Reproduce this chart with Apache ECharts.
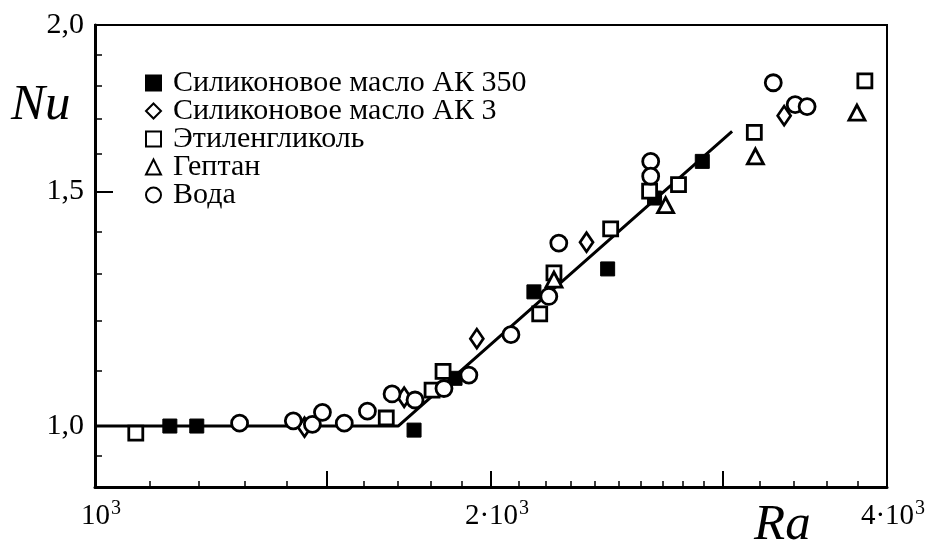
<!DOCTYPE html>
<html>
<head>
<meta charset="utf-8">
<script src="https://cdn.jsdelivr.net/npm/echarts@6/dist/echarts.min.js"></script>
<style>
  html, body { margin: 0; padding: 0; background: #fff; }
  #chart { width: 928px; height: 543px; }
</style>
</head>
<body>
<div id="chart"></div>
<script>
// Nu versus Ra (log-log) for a fluid layer heated from below.
// Each entry is [Ra, Nu].
const seriesNames = [
  'Силиконовое масло АК 350',
  'Силиконовое масло АК 3',
  'Этиленгликоль',
  'Гептан',
  'Вода'
];

const siliconeAK350 = [
  [1140, 1.000], [1195, 1.000], [1748, 0.993], [1878, 1.086],
  [2156, 1.261], [2453, 1.312], [2663, 1.483], [2895, 1.580]
];

const siliconeAK3 = [
  [1443, 0.998], [1718, 1.051], [1951, 1.163], [2364, 1.374], [3341, 1.710]
];

const ethyleneGlycol = [
  [1074, 0.988], [1665, 1.014], [1804, 1.064], [1839, 1.099], [2178, 1.214],
  [2233, 1.303], [2466, 1.406], [2640, 1.501], [2777, 1.518], [3171, 1.661],
  [3848, 1.816]
];

const heptane = [
  [2233, 1.288], [2715, 1.465], [3177, 1.594], [3795, 1.719]
];

const water = [
  [1288, 1.005], [1415, 1.009], [1463, 1.003], [1489, 1.024], [1547, 1.005],
  [1611, 1.026], [1682, 1.057], [1751, 1.046], [1842, 1.067], [1924, 1.092],
  [2071, 1.171], [2213, 1.251], [2252, 1.372], [2645, 1.580], [2645, 1.540],
  [3278, 1.810], [3406, 1.743], [3478, 1.737]
];

// Conduction regime (Nu = 1) and convective branch
const fitLine = [[1000, 1.0], [1700, 1.0], [3050, 1.664]];

// Axis ranges and tick positions
const raRange = [1000, 4000];
const nuRange = [0.9, 2.0];
const raLabelValues = [1000, 2000, 4000];
const raMajorTicks = [1500, 2000, 3000];
const raMinorTicks = [1100, 1200, 1300, 1400, 1600, 1700, 1800, 1900,
  2100, 2200, 2300, 2400, 2500, 2600, 2700, 2800, 2900, 3200, 3400, 3600, 3800];
const raTickLabels = { 1000: '{b|10}{s|3}', 2000: '{b|2·10}{s|3}', 4000: '{b|4·10}{s|3}' };
const nuLabelValues = [1.0, 1.5, 2.0];
const nuMajorTicks = [1.5];
const nuMinorTicks = [0.95, 1.1, 1.2, 1.3, 1.4, 1.6, 1.7, 1.8, 1.9];
const nuTickLabels = { 1: '1,0', 1.5: '1,5', 2: '2,0' };

const FONT = 'Liberation Serif';
const INK = '#000';

const chart = echarts.init(document.getElementById('chart'), null, { renderer: 'canvas' });

const hollow = { color: '#fff', borderColor: INK, borderWidth: 2.8, opacity: 1 };

function scatter(name, data, symbol, size, style) {
  return {
    type: 'scatter',
    name: name,
    data: data,
    symbol: symbol,
    symbolSize: size,
    itemStyle: style,
    z: 3,
    emphasis: { disabled: true }
  };
}

const option = {
  animation: false,
  backgroundColor: '#fff',
  grid: {
    left: 95, right: 41, top: 25, bottom: 56,
    show: true, borderColor: INK, borderWidth: 2,
    containLabel: false, outerBoundsMode: 'none'
  },
  legend: {
    orient: 'vertical',
    left: 140, top: 63,
    itemWidth: 15, itemHeight: 15,
    itemGap: -2,
    selectedMode: false,
    textStyle: { fontFamily: FONT, fontSize: 30, color: INK, lineHeight: 28, padding: [0, 0, 0, 7] },
    data: seriesNames
  },
  xAxis: [
    {
      type: 'log', logBase: 10, min: raRange[0], max: raRange[1], position: 'bottom',
      axisLine: { show: true, onZero: false, lineStyle: { color: INK, width: 3 } },
      axisTick: { show: true, inside: true, length: 16, customValues: raMajorTicks, lineStyle: { color: INK, width: 2 } },
      axisLabel: {
        show: true, margin: 12, customValues: raLabelValues,
        formatter: v => raTickLabels[Math.round(v)] || '',
        rich: {
          b: { fontFamily: FONT, fontSize: 29, color: INK, padding: [0, 0, 0, 12] },
          s: { fontFamily: FONT, fontSize: 20, color: INK, padding: [0, 0, 14, 1] }
        }
      },
      splitLine: { show: false }
    },
    {
      type: 'log', logBase: 10, min: raRange[0], max: raRange[1], position: 'bottom',
      axisLine: { show: false, onZero: false },
      axisTick: { show: true, inside: true, length: 6, customValues: raMinorTicks, lineStyle: { color: INK, width: 1.5 } },
      axisLabel: { show: false },
      splitLine: { show: false }
    }
  ],
  yAxis: [
    {
      type: 'log', logBase: 10, min: nuRange[0], max: nuRange[1], position: 'left',
      axisLine: { show: true, onZero: false, lineStyle: { color: INK, width: 3 } },
      axisTick: { show: true, inside: true, length: 18, customValues: nuMajorTicks, lineStyle: { color: INK, width: 2 } },
      axisLabel: {
        show: true, margin: 11, customValues: nuLabelValues,
        formatter: v => nuTickLabels[Math.round(v * 10) / 10] || '',
        fontFamily: FONT, fontSize: 30, color: INK
      },
      splitLine: { show: false }
    },
    {
      type: 'log', logBase: 10, min: nuRange[0], max: nuRange[1], position: 'left',
      axisLine: { show: false, onZero: false },
      axisTick: { show: true, inside: true, length: 7, customValues: nuMinorTicks, lineStyle: { color: INK, width: 1.5 } },
      axisLabel: { show: false },
      splitLine: { show: false }
    }
  ],
  graphic: [
    {
      type: 'text', left: 11, top: 80,
      style: { text: 'Nu', font: 'italic 51px "Liberation Serif"', fill: INK }
    },
    {
      type: 'text', left: 754, top: 500,
      style: { text: 'Ra', font: 'italic 51px "Liberation Serif"', fill: INK }
    }
  ],
  series: [
    {
      type: 'line',
      data: fitLine,
      symbol: 'none',
      lineStyle: { color: INK, width: 3 },
      z: 2,
      silent: true,
      emphasis: { disabled: true }
    },
    scatter(seriesNames[0], siliconeAK350, 'rect', 14, { color: INK, borderColor: INK, borderWidth: 1, opacity: 1 }),
    scatter(seriesNames[1], siliconeAK3, 'diamond', [13, 19], hollow),
    scatter(seriesNames[2], ethyleneGlycol, 'rect', 14, hollow),
    scatter(seriesNames[3], heptane, 'triangle', [16, 15], hollow),
    scatter(seriesNames[4], water, 'circle', 16, hollow)
  ]
};

chart.setOption(option);
</script>
</body>
</html>
